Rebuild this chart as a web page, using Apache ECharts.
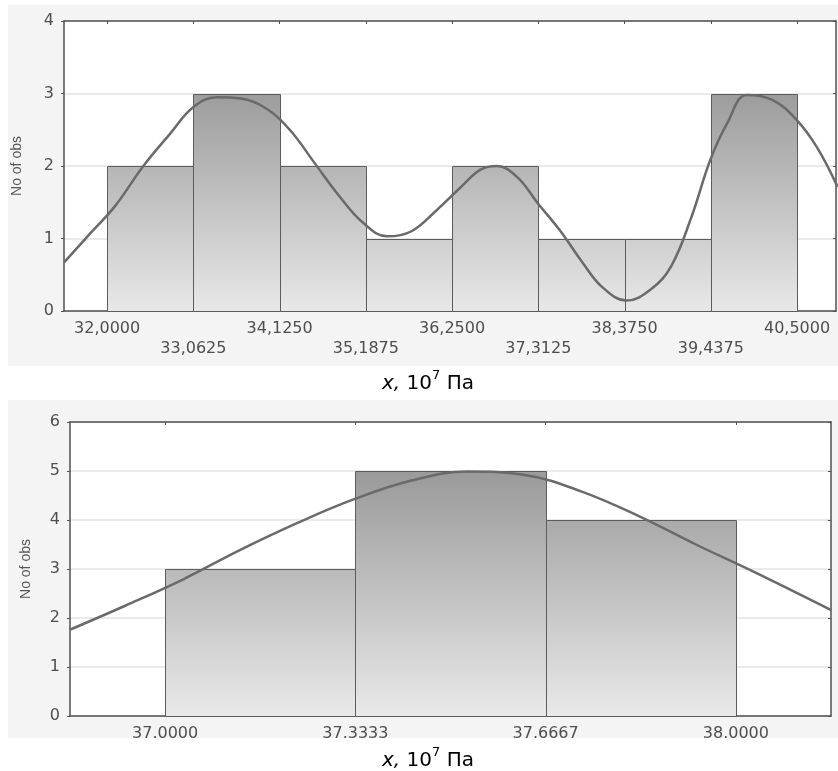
<!DOCTYPE html>
<html><head><meta charset="utf-8">
<script src="https://cdn.jsdelivr.net/npm/echarts@6/dist/echarts.min.js"></script>
<style>html,body{margin:0;padding:0;background:#fff}#c{width:838px;height:771px}</style>
</head><body><div id="c"></div>
<script>
// ---- top histogram ----
const topEdges = [32.0000, 33.0625, 34.1250, 35.1875, 36.2500, 37.3125, 38.3750, 39.4375, 40.5000];
const topCounts = [2, 3, 2, 1, 2, 1, 1, 3];
const topTickLabels = ['32,0000', '33,0625', '34,1250', '35,1875', '36,2500', '37,3125', '38,3750', '39,4375', '40,5000'];
const topCurveX = [31.47, 31.80, 32.10, 32.44, 32.78, 33.06, 33.35, 33.65, 33.95, 34.25, 34.55, 34.85, 35.15, 35.45, 35.75, 36.05, 36.35, 36.60, 36.80, 37.05, 37.31, 37.58, 37.85, 38.10, 38.40, 38.70, 38.95, 39.20, 39.43, 39.64, 39.88, 40.20, 40.50, 40.75, 41.00];
const topCurveY = [0.67, 1.08, 1.45, 1.99, 2.45, 2.81, 2.95, 2.93, 2.80, 2.50, 2.05, 1.60, 1.22, 1.03, 1.10, 1.38, 1.70, 1.95, 2.00, 1.85, 1.48, 1.11, 0.68, 0.33, 0.145, 0.30, 0.62, 1.30, 2.08, 2.59, 2.98, 2.91, 2.63, 2.25, 1.71];

// ---- bottom histogram ----
const botEdges = [37.0000, 37.3333, 37.6667, 38.0000];
const botCounts = [3, 5, 4];
const botTickLabels = ['37.0000', '37.3333', '37.6667', '38.0000'];
const botCurveX = [36.833, 36.93, 37.03, 37.13, 37.23, 37.33, 37.43, 37.53, 37.63, 37.73, 37.83, 37.93, 38.03, 38.167];
const botCurveY = [1.76, 2.25, 2.78, 3.38, 3.93, 4.42, 4.80, 4.99, 4.92, 4.58, 4.08, 3.50, 2.95, 2.16];

const yAxisName = 'No of obs';
const captionParts = ['x,', ' 10', '7', ' Па'];

const chart = echarts.init(document.getElementById('c'), null, {renderer: 'canvas'});

const LINE = '#505050';
const LABEL = '#4e4e4e';
const FONT = 'DejaVu Sans';

function labelIndex(edges, v) {
  let best = 0;
  for (let i = 0; i < edges.length; i++) if (Math.abs(edges[i] - v) < Math.abs(edges[best] - v)) best = i;
  return best;
}

function xAxes(gi, edges, labels, min, max, alternate) {
  return [{
    type: 'value', gridIndex: gi, min: min, max: max, position: 'bottom',
    axisLine: {show: true, onZero: false, lineStyle: {color: LINE, width: 1.5}},
    axisTick: {show: true, customValues: edges, length: 3, inside: true, lineStyle: {color: LINE}},
    splitLine: {show: false},
    axisLabel: {
      customValues: edges, margin: 8, color: LABEL, fontFamily: FONT, fontSize: 16, lineHeight: 20,
      formatter: function (v) {
        const i = labelIndex(edges, v);
        return (alternate && i % 2 === 1) ? '\n' + labels[i] : labels[i];
      }
    }
  }, {
    type: 'value', gridIndex: gi, min: min, max: max, position: 'top',
    axisLine: {show: true, onZero: false, lineStyle: {color: LINE, width: 1.5}},
    axisTick: {show: true, customValues: edges, length: 3, inside: true, lineStyle: {color: LINE}},
    splitLine: {show: false}, axisLabel: {show: false}
  }];
}

function yAxes(gi, max, nameGap) {
  return [{
    type: 'value', gridIndex: gi, min: 0, max: max, interval: 1, position: 'left',
    name: yAxisName, nameLocation: 'middle', nameGap: nameGap,
    nameTextStyle: {color: '#555', fontFamily: 'Liberation Sans', fontSize: 14},
    axisLine: {show: true, lineStyle: {color: LINE, width: 1.5}},
    axisTick: {show: true, length: 3, lineStyle: {color: LINE}},
    axisLabel: {margin: 10, color: LABEL, fontFamily: FONT, fontSize: 16},
    splitLine: {show: true, lineStyle: {color: '#e3e3e3', width: 1.5}}
  }, {
    type: 'value', gridIndex: gi, min: 0, max: max, interval: 1, position: 'right',
    axisLine: {show: true, lineStyle: {color: LINE, width: 1.5}},
    axisTick: {show: true, inside: true, length: 3, lineStyle: {color: LINE}},
    axisLabel: {show: false}, splitLine: {show: false}
  }];
}

function barSeries(edges, counts, xi, yi, yMax, cTop, cBot) {
  const data = counts.map((c, i) => [edges[i], edges[i + 1], c]);
  return {
    type: 'custom', xAxisIndex: xi, yAxisIndex: yi, data: data, z: 2,
    encode: {x: [0, 1], y: 2},
    renderItem: function (params, api) {
      const p0 = api.coord([api.value(0), 0]);
      const p1 = api.coord([api.value(1), api.value(2)]);
      const gTop = api.coord([api.value(0), yMax])[1];
      const x0 = Math.round(p0[0]) + 0.5, x1 = Math.round(p1[0]) + 0.5;
      const yT = Math.round(p1[1]) + 0.5, yB = Math.round(p0[1]) + 0.5;
      return {
        type: 'rect',
        shape: {x: x0, y: yT, width: x1 - x0, height: yB - yT},
        style: {
          fill: new echarts.graphic.LinearGradient(0, gTop, 0, p0[1],
            [{offset: 0, color: cTop}, {offset: 1, color: cBot}], true),
          stroke: '#5c5c5c', lineWidth: 1
        }
      };
    }
  };
}

function curveSeries(X, Y, xi, yi) {
  return {
    type: 'line', xAxisIndex: xi, yAxisIndex: yi, z: 3,
    data: X.map((x, i) => [x, Y[i]]), smooth: 0.4, showSymbol: false, symbol: 'none',
    lineStyle: {color: '#6a6a6a', width: 2.5}, silent: true
  };
}

function measure(text, font) {
  const ctx = document.createElement('canvas').getContext('2d');
  ctx.font = font;
  return ctx.measureText(text).width;
}

function caption(cx, cy) {
  const fMain = '20px "DejaVu Sans"', fIt = 'italic 20px "DejaVu Sans"', fSup = '13px "DejaVu Sans"';
  const w0 = measure(captionParts[0], fIt), w1 = measure(captionParts[1], fMain),
        w2 = measure(captionParts[2], fSup), w3 = measure(captionParts[3], fMain);
  let x = cx - (w0 + w1 + w2 + w3) / 2;
  const els = [];
  const mk = (t, style, size, y) => ({type: 'text', x: x, y: y,
    style: {text: t, fontFamily: FONT, fontSize: size, fontStyle: style, fill: '#000', align: 'left', verticalAlign: 'middle'}});
  els.push(mk(captionParts[0], 'italic', 20, cy)); x += w0;
  els.push(mk(captionParts[1], 'normal', 20, cy)); x += w1;
  els.push(mk(captionParts[2], 'normal', 13, cy - 8)); x += w2;
  els.push(mk(captionParts[3], 'normal', 20, cy));
  return els;
}

const xa = xAxes(0, topEdges, topTickLabels, 31.46875, 40.98, true)
  .concat(xAxes(1, botEdges, botTickLabels, 36.83333, 38.16667, false));
const ya = yAxes(0, 4, 40).concat(yAxes(1, 6, 37));

chart.setOption({
  animation: false,
  backgroundColor: '#ffffff',
  graphic: [
    {type: 'rect', z: -10, shape: {x: 8, y: 5, width: 830, height: 361}, style: {fill: '#f4f4f4'}},
    {type: 'rect', z: -10, shape: {x: 8, y: 400, width: 830, height: 338}, style: {fill: '#f4f4f4'}}
  ].concat(caption(428, 384)).concat(caption(428, 761)),
  grid: [
    {left: 64, top: 21, width: 772, height: 290, show: true, backgroundColor: '#ffffff', borderWidth: 0},
    {left: 70, top: 422, width: 761, height: 294, show: true, backgroundColor: '#ffffff', borderWidth: 0}
  ],
  xAxis: xa,
  yAxis: ya,
  series: [
    barSeries(topEdges, topCounts, 0, 0, 4, '#838383', '#e8e8e8'),
    curveSeries(topCurveX, topCurveY, 0, 0),
    barSeries(botEdges, botCounts, 2, 2, 6, '#8a8a8a', '#e9e9e9'),
    curveSeries(botCurveX, botCurveY, 2, 2)
  ]
});
</script></body></html>
